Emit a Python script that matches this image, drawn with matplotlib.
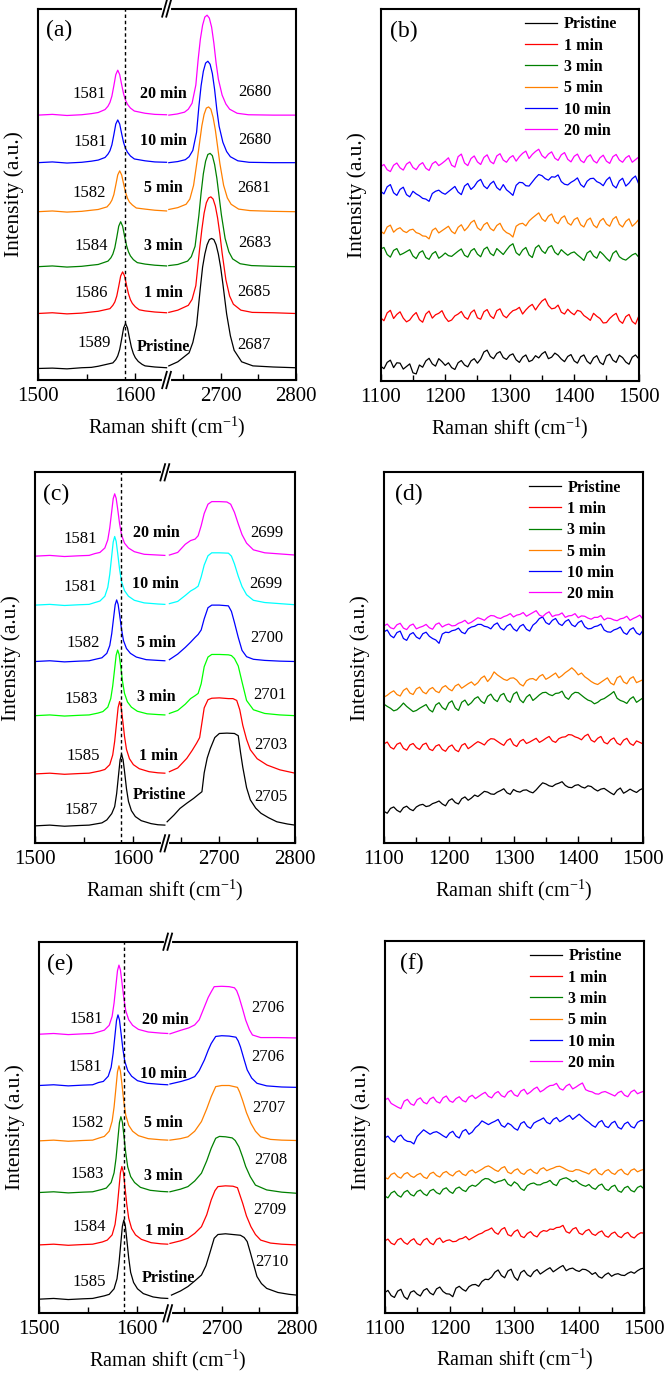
import numpy as np
import matplotlib
matplotlib.use('Agg')
import matplotlib.pyplot as plt
from matplotlib.transforms import blended_transform_factory

plt.rcParams['font.family'] = ['Liberation Serif', 'DejaVu Serif']
plt.rcParams['mathtext.default'] = 'regular'

labels = ['Pristine', '1 min', '3 min', '5 min', '10 min', '20 min']
cols_std = ['black', '#ff0000', '#008000', '#ff8000', '#0000ff', '#ff00ff']
cols_c = ['black', '#ff0000', '#00ff00', '#0000ff', '#00ffff', '#ff00ff']

# peak positions printed in the panels (pristine -> 20 min)
a_g_txt = ['1589', '1586', '1584', '1582', '1581', '1581']
a_d_txt = ['2687', '2685', '2683', '2681', '2680', '2680']
c_g_txt = ['1587', '1585', '1583', '1582', '1581', '1581']
c_d_txt = ['2705', '2703', '2701', '2700', '2699', '2699']
e_g_txt = ['1585', '1584', '1583', '1582', '1581', '1581']
e_d_txt = ['2710', '2709', '2708', '2707', '2706', '2706']

# ---- panel (a): G band and 2D band (stacked, arb. units) ----
a_gx = [
    [1500, 1515, 1530, 1545, 1555, 1562, 1577, 1580, 1582, 1584, 1586, 1588, 1590, 1592, 1594, 1596, 1598, 1600, 1603, 1607, 1610, 1620, 1632],
    [1500, 1515, 1530, 1545, 1555, 1562, 1574, 1577, 1579, 1581, 1583, 1585, 1587, 1589, 1591, 1593, 1595, 1597, 1600, 1604, 1610, 1620, 1632],
    [1500, 1515, 1530, 1545, 1555, 1562, 1572, 1575, 1577, 1579, 1581, 1583, 1585, 1587, 1589, 1591, 1593, 1595, 1598, 1602, 1610, 1620, 1632],
    [1500, 1515, 1530, 1545, 1555, 1562, 1571, 1574, 1576, 1578, 1580, 1582, 1584, 1586, 1588, 1590, 1592, 1594, 1597, 1601, 1610, 1620, 1632],
    [1500, 1515, 1530, 1545, 1555, 1562, 1569, 1572, 1574, 1576, 1578, 1580, 1582, 1584, 1586, 1588, 1590, 1592, 1595, 1599, 1610, 1620, 1632],
    [1500, 1515, 1530, 1545, 1555, 1562, 1569, 1572, 1574, 1576, 1578, 1580, 1582, 1584, 1586, 1588, 1590, 1592, 1595, 1599, 1610, 1620, 1632],
]
a_gy = [
    [3.1, 3.2, 3.0, 3.3, 3.4, 3.7, 4.6, 5.5, 6.5, 8.2, 11.0, 14.0, 15.2, 14.0, 11.3, 8.8, 7.1, 6.0, 5.0, 4.2, 3.8, 3.5, 3.3],
    [17.9, 18.1, 17.8, 18.0, 18.3, 18.5, 19.2, 20.1, 21.0, 22.6, 25.2, 28.0, 29.1, 28.0, 25.5, 23.2, 21.6, 20.6, 19.7, 18.9, 18.6, 18.3, 18.1],
    [30.5, 30.7, 30.4, 30.6, 30.9, 31.1, 32.0, 32.9, 33.9, 35.6, 38.4, 41.4, 42.6, 41.4, 38.7, 36.2, 34.5, 33.4, 32.4, 31.6, 31.2, 30.9, 30.7],
    [45.3, 45.5, 45.2, 45.4, 45.7, 45.9, 46.6, 47.5, 48.4, 49.9, 52.5, 55.2, 56.3, 55.2, 52.8, 50.5, 48.9, 47.9, 47.1, 46.3, 46.0, 45.7, 45.5],
    [58.5, 58.7, 58.4, 58.6, 58.9, 59.2, 59.9, 60.8, 61.7, 63.3, 66.0, 68.9, 70.0, 68.9, 66.3, 63.9, 62.3, 61.3, 60.3, 59.5, 59.0, 58.7, 58.6],
    [71.3, 71.5, 71.2, 71.4, 71.7, 72.0, 72.8, 73.7, 74.7, 76.4, 79.2, 82.2, 83.4, 82.2, 79.5, 77.0, 75.3, 74.2, 73.2, 72.4, 71.8, 71.5, 71.4],
]
a_dx = [
    [2631, 2643, 2658, 2663, 2668, 2673, 2676, 2679, 2682, 2685, 2688, 2691, 2694, 2697, 2700, 2703, 2708, 2713, 2718, 2728, 2743, 2770, 2800],
    [2631, 2643, 2657, 2662, 2667, 2672, 2675, 2678, 2681, 2684, 2687, 2690, 2693, 2696, 2699, 2702, 2707, 2712, 2717, 2727, 2742, 2770, 2800],
    [2631, 2643, 2656, 2661, 2666, 2671, 2674, 2677, 2680, 2683, 2686, 2689, 2692, 2695, 2698, 2701, 2706, 2711, 2716, 2726, 2741, 2770, 2800],
    [2631, 2643, 2654, 2659, 2664, 2669, 2672, 2675, 2678, 2681, 2684, 2687, 2690, 2693, 2696, 2699, 2704, 2709, 2714, 2724, 2739, 2770, 2800],
    [2631, 2643, 2653, 2658, 2663, 2668, 2671, 2674, 2677, 2680, 2683, 2686, 2689, 2692, 2695, 2698, 2703, 2708, 2713, 2723, 2738, 2770, 2800],
    [2631, 2642, 2652, 2657, 2662, 2667, 2670, 2673, 2676, 2679, 2682, 2685, 2688, 2691, 2694, 2697, 2702, 2707, 2712, 2722, 2737, 2770, 2800],
]
a_dy = [
    [3.8, 4.9, 7.3, 10.1, 14.7, 24.8, 30.4, 33.9, 36.4, 37.8, 38.1, 37.8, 36.4, 33.9, 30.4, 25.9, 17.8, 11.9, 8.0, 4.9, 3.8, 3.5, 3.3],
    [18.2, 18.8, 20.1, 21.7, 25.4, 35.2, 40.5, 44.9, 47.7, 49.0, 49.3, 48.7, 46.8, 43.6, 39.3, 34.2, 27.0, 22.6, 20.4, 18.8, 18.2, 18.1, 17.9],
    [30.8, 31.1, 32.0, 33.2, 36.0, 44.2, 50.3, 55.5, 58.9, 60.7, 61.0, 60.4, 58.0, 54.3, 49.4, 44.5, 38.1, 34.5, 32.6, 31.3, 30.8, 30.6, 30.5],
    [45.9, 46.4, 47.3, 48.7, 52.4, 59.4, 63.9, 68.4, 71.5, 73.2, 73.5, 72.9, 70.7, 67.3, 62.8, 58.3, 52.4, 49.0, 47.3, 46.0, 45.6, 45.4, 45.3],
    [58.5, 58.8, 59.3, 60.1, 61.8, 66.7, 73.5, 79.2, 83.1, 85.3, 85.8, 85.0, 82.5, 78.2, 72.7, 68.3, 64.0, 61.5, 60.1, 59.0, 58.6, 58.5, 58.5],
    [71.3, 71.6, 72.1, 72.9, 74.5, 79.4, 86.1, 91.7, 95.5, 97.7, 98.2, 97.4, 95.0, 90.7, 85.3, 81.0, 76.7, 74.3, 72.9, 71.8, 71.4, 71.3, 71.3],
]

# ---- panel (c) ----
c_gx = [
    [1500, 1515, 1530, 1545, 1555, 1568, 1573, 1578, 1581, 1583, 1585, 1586.5, 1588, 1589.5, 1591, 1593, 1595, 1598, 1602, 1608, 1618, 1625, 1632],
    [1500, 1515, 1530, 1545, 1555, 1566, 1571, 1576, 1579, 1581, 1583, 1584.5, 1586, 1587.5, 1589, 1591, 1593, 1596, 1600, 1606, 1616, 1625, 1632],
    [1500, 1515, 1530, 1545, 1555, 1564, 1569, 1574, 1577, 1579, 1581, 1582.5, 1584, 1585.5, 1587, 1589, 1591, 1594, 1598, 1604, 1614, 1625, 1632],
    [1500, 1515, 1530, 1545, 1555, 1563, 1568, 1573, 1576, 1578, 1580, 1581.5, 1583, 1584.5, 1586, 1588, 1590, 1593, 1597, 1603, 1613, 1625, 1632],
    [1500, 1515, 1530, 1545, 1555, 1561, 1566, 1571, 1574, 1576, 1578, 1579.5, 1581, 1582.5, 1584, 1586, 1588, 1591, 1595, 1601, 1611, 1625, 1632],
    [1500, 1515, 1530, 1545, 1555, 1561, 1566, 1571, 1574, 1576, 1578, 1579.5, 1581, 1582.5, 1584, 1586, 1588, 1591, 1595, 1601, 1611, 1625, 1632],
]
c_gy = [
    [4.7, 4.9, 4.6, 4.8, 4.9, 5.5, 6.3, 8.0, 9.9, 13.4, 18.6, 22.5, 24.0, 22.6, 19.4, 14.7, 11.3, 8.8, 7.2, 6.1, 5.3, 5.0, 4.9],
    [18.7, 18.9, 18.6, 18.8, 18.9, 19.5, 19.9, 21.2, 23.8, 27.5, 32.7, 36.6, 38.2, 36.8, 33.5, 28.8, 25.3, 22.8, 21.2, 20.1, 19.3, 19.0, 18.9],
    [34.4, 34.6, 34.3, 34.5, 34.6, 35.1, 35.5, 36.7, 39.0, 42.4, 47.1, 50.7, 52.1, 50.9, 47.9, 43.6, 40.4, 38.1, 36.7, 35.6, 34.9, 34.7, 34.6],
    [49.0, 49.2, 48.9, 49.1, 49.2, 49.7, 50.0, 51.2, 53.3, 56.5, 61.0, 64.3, 65.6, 64.4, 61.6, 57.6, 54.6, 52.5, 51.2, 50.2, 49.5, 49.3, 49.2],
    [64.2, 64.4, 64.1, 64.3, 64.4, 64.9, 65.3, 66.6, 69.0, 72.5, 77.5, 81.2, 82.7, 81.4, 78.3, 73.8, 70.5, 68.1, 66.6, 65.5, 64.8, 64.5, 64.4],
    [77.4, 77.6, 77.3, 77.5, 77.6, 78.1, 78.4, 79.6, 81.8, 85.0, 89.5, 92.9, 94.2, 93.0, 90.2, 86.1, 83.1, 80.9, 79.6, 78.6, 77.9, 77.7, 77.6],
]
c_dx = [
    [2631, 2640, 2648, 2657, 2666, 2672, 2677, 2680, 2684, 2688, 2694, 2700, 2710, 2720, 2725, 2728, 2731, 2736, 2741, 2748, 2755, 2765, 2776, 2790, 2800],
    [2634, 2645, 2657, 2664, 2670, 2674, 2677, 2680, 2685, 2690, 2700, 2712, 2718, 2723, 2727, 2731, 2736, 2741, 2750, 2763, 2780, 2800],
    [2634, 2645, 2655, 2662, 2668, 2672, 2676, 2680, 2685, 2690, 2700, 2712, 2716, 2720, 2725, 2730, 2736, 2745, 2760, 2780, 2800],
    [2634, 2645, 2655, 2662, 2668, 2672, 2676, 2680, 2685, 2690, 2700, 2712, 2716, 2720, 2725, 2730, 2736, 2745, 2760, 2780, 2800],
    [2634, 2645, 2655, 2662, 2668, 2672, 2676, 2680, 2685, 2690, 2700, 2712, 2716, 2720, 2725, 2730, 2736, 2745, 2760, 2780, 2800],
    [2634, 2645, 2655, 2662, 2668, 2672, 2676, 2680, 2685, 2690, 2700, 2710, 2715, 2720, 2725, 2730, 2736, 2745, 2760, 2780, 2800],
]
c_dy = [
    [5.8, 7.6, 9.4, 10.8, 12.1, 13.1, 13.9, 19.0, 23.0, 25.5, 28.5, 29.6, 29.7, 29.6, 29.0, 24.5, 20.5, 15.0, 11.7, 9.5, 8.1, 6.9, 5.8, 5.2, 4.9],
    [19.3, 20.3, 22.9, 25.0, 27.0, 28.5, 32.5, 36.5, 38.7, 39.1, 39.2, 39.0, 39.0, 38.5, 36.0, 31.8, 28.0, 25.2, 22.8, 21.1, 19.8, 18.9],
    [35.0, 35.8, 37.5, 39.0, 39.8, 40.4, 43.0, 47.6, 50.2, 50.9, 50.9, 50.8, 50.6, 49.8, 47.8, 43.5, 38.5, 36.0, 35.0, 34.6, 34.4],
    [49.5, 51.0, 52.8, 54.2, 55.5, 56.3, 57.5, 60.5, 63.5, 64.2, 64.2, 64.0, 62.5, 59.5, 55.5, 52.0, 50.3, 49.6, 49.3, 49.1, 49.0],
    [64.6, 65.2, 66.8, 68.0, 68.7, 69.3, 71.8, 75.0, 77.5, 78.3, 78.3, 78.2, 77.4, 75.3, 72.0, 69.2, 67.0, 65.5, 64.9, 64.6, 64.3],
    [77.7, 78.4, 80.6, 81.6, 82.0, 82.9, 85.6, 88.9, 91.4, 92.1, 92.1, 92.0, 91.4, 89.2, 86.1, 83.2, 80.9, 79.1, 78.3, 78.0, 77.7],
]

# ---- panel (e) ----
e_gx = [
    [1500, 1515, 1530, 1545, 1555, 1567, 1572, 1577, 1580, 1582, 1584, 1585.5, 1587, 1588.5, 1590, 1592, 1594, 1597, 1601, 1607, 1617, 1625, 1632],
    [1500, 1515, 1530, 1545, 1555, 1565, 1570, 1575, 1578, 1580, 1582, 1583.5, 1585, 1586.5, 1588, 1590, 1592, 1595, 1599, 1605, 1615, 1625, 1632],
    [1500, 1515, 1530, 1545, 1555, 1564, 1569, 1574, 1577, 1579, 1581, 1582.5, 1584, 1585.5, 1587, 1589, 1591, 1594, 1598, 1604, 1614, 1625, 1632],
    [1500, 1515, 1530, 1545, 1555, 1562, 1567, 1572, 1575, 1577, 1579, 1580.5, 1582, 1583.5, 1585, 1587, 1589, 1592, 1596, 1602, 1612, 1625, 1632],
    [1500, 1515, 1530, 1545, 1555, 1561, 1566, 1571, 1574, 1576, 1578, 1579.5, 1581, 1582.5, 1584, 1586, 1588, 1591, 1595, 1601, 1611, 1625, 1632],
    [1500, 1515, 1530, 1545, 1555, 1562, 1567, 1572, 1575, 1577, 1579, 1580.5, 1582, 1583.5, 1585, 1587, 1589, 1592, 1596, 1602, 1612, 1625, 1632],
]
e_gy = [
    [3.8, 4.0, 3.7, 3.9, 4.0, 4.7, 5.1, 6.6, 9.3, 13.4, 19.1, 23.4, 25.1, 23.6, 20.0, 14.9, 11.0, 8.3, 6.6, 5.3, 4.4, 4.1, 4.0],
    [18.4, 18.6, 18.3, 18.5, 18.6, 19.2, 19.7, 21.1, 23.9, 27.9, 33.6, 37.8, 39.5, 38.0, 34.4, 29.4, 25.6, 22.8, 21.1, 19.9, 19.0, 18.7, 18.6],
    [32.5, 32.7, 32.4, 32.6, 32.7, 33.3, 33.7, 35.2, 37.8, 41.7, 47.2, 51.3, 52.9, 51.5, 48.0, 43.1, 39.4, 36.8, 35.2, 33.9, 33.1, 32.8, 32.7],
    [46.4, 46.6, 46.3, 46.5, 46.6, 47.2, 47.6, 49.0, 51.7, 55.5, 60.9, 65.0, 66.6, 65.2, 61.8, 56.9, 53.3, 50.6, 49.0, 47.8, 47.0, 46.7, 46.6],
    [61.3, 61.5, 61.2, 61.4, 61.5, 62.1, 62.4, 63.8, 66.2, 69.9, 75.0, 78.8, 80.3, 79.0, 75.7, 71.2, 67.8, 65.3, 63.8, 62.6, 61.9, 61.6, 61.5],
    [75.1, 75.3, 75.0, 75.2, 75.3, 75.8, 76.2, 77.5, 79.9, 83.5, 88.5, 92.2, 93.7, 92.4, 89.2, 84.8, 81.4, 79.0, 77.5, 76.4, 75.7, 75.4, 75.3],
]
e_dx = [
    [2633, 2645, 2655, 2664, 2673, 2679, 2684, 2690, 2695, 2705, 2715, 2725, 2730, 2734, 2738, 2741, 2747, 2753, 2760, 2775, 2790, 2800],
    [2631, 2645, 2655, 2664, 2673, 2680, 2686, 2691, 2695, 2705, 2715, 2721, 2724, 2728, 2733, 2739, 2745, 2752, 2765, 2780, 2800],
    [2631, 2645, 2655, 2664, 2673, 2680, 2686, 2692, 2697, 2705, 2714, 2718, 2723, 2728, 2732, 2738, 2745, 2760, 2780, 2800],
    [2631, 2645, 2655, 2664, 2673, 2680, 2686, 2692, 2700, 2710, 2721, 2724, 2728, 2733, 2739, 2745, 2752, 2765, 2780, 2800],
    [2631, 2646, 2656, 2664, 2670, 2677, 2682, 2686, 2692, 2700, 2710, 2719, 2722, 2725, 2730, 2734, 2740, 2747, 2760, 2780, 2800],
    [2631, 2646, 2656, 2664, 2670, 2677, 2682, 2686, 2690, 2700, 2710, 2717, 2720, 2723, 2728, 2732, 2737, 2741, 2752, 2775, 2800],
]
e_dy = [
    [4.9, 6.0, 7.2, 8.7, 10.3, 12.8, 16.1, 20.2, 21.2, 21.4, 21.2, 21.0, 20.4, 19.3, 16.5, 14.3, 9.9, 8.0, 6.7, 5.6, 5.1, 4.9],
    [18.8, 19.5, 20.2, 21.5, 23.3, 26.5, 30.5, 33.0, 34.1, 34.3, 34.2, 33.8, 32.0, 29.6, 26.2, 23.3, 21.2, 19.7, 18.9, 18.6, 18.4],
    [32.7, 33.4, 34.1, 35.6, 37.7, 41.0, 44.4, 47.1, 47.6, 47.5, 47.2, 46.5, 44.8, 42.0, 39.5, 36.8, 34.5, 33.2, 32.6, 32.3],
    [46.6, 47.0, 47.5, 49.0, 51.6, 55.0, 58.3, 61.0, 61.3, 61.3, 60.8, 59.5, 57.2, 54.0, 51.1, 49.0, 47.5, 46.8, 46.6, 46.5],
    [61.7, 62.4, 63.0, 63.7, 65.3, 68.2, 70.8, 72.6, 74.5, 74.7, 74.6, 74.3, 73.3, 71.7, 68.2, 65.5, 63.3, 61.9, 61.2, 60.9, 60.8],
    [75.2, 76.2, 76.8, 77.6, 79.0, 82.5, 85.0, 86.5, 87.9, 88.0, 87.9, 87.6, 86.8, 85.2, 81.8, 78.9, 76.3, 74.9, 74.2, 74.2, 74.1],
]

# ---- D band region, 1100-1500 cm-1, one value every 5 cm-1 ----
d_shift = np.arange(1100, 1501, 5)
b_y = [
    [4.0, 3.3, 5.0, 5.6, 3.6, 4.9, 4.8, 3.2, 3.9, 4.6, 2.2, 1.9, 4.3, 3.7, 5.4, 6.1, 4.6, 4.0, 6.0, 5.2,
     4.2, 4.9, 3.6, 3.1, 4.9, 5.5, 4.3, 3.8, 5.4, 6.0, 4.8, 5.9, 7.8, 8.3, 6.6, 6.0, 7.4, 7.9, 6.3, 5.8,
     6.9, 7.3, 5.7, 5.0, 6.4, 7.0, 5.2, 5.6, 6.8, 6.2, 7.3, 7.9, 6.0, 6.4, 7.5, 6.9, 5.9, 5.2, 6.6, 7.1,
     5.4, 4.8, 6.5, 7.0, 5.3, 4.6, 6.2, 6.8, 5.0, 4.4, 6.7, 7.2, 5.6, 5.0, 6.9, 6.3, 5.1, 4.5, 6.4, 7.0, 6.0],
    [17.0, 16.2, 18.3, 19.0, 16.8, 17.9, 18.6, 16.9, 15.9, 16.4, 17.6, 18.4, 16.5, 15.8, 18.0, 18.8, 16.9, 17.8, 18.2, 18.9,
     17.1, 16.0, 16.4, 17.5, 18.0, 18.7, 17.2, 16.6, 18.4, 19.1, 17.0, 16.6, 18.6, 19.2, 17.5, 16.8, 18.9, 19.4, 17.6, 17.0,
     18.1, 18.9, 19.2, 19.8, 18.0, 19.1, 20.0, 20.6, 19.1, 20.4, 21.5, 22.1, 20.3, 19.4, 19.6, 20.4, 18.5, 18.0, 19.3, 18.4,
     17.8, 19.0, 18.7, 17.6, 17.0, 16.3, 18.2, 17.4, 16.8, 15.6, 15.7, 16.8, 17.6, 18.2, 16.2, 15.5, 17.3, 17.9, 16.0, 15.3, 17.4],
    [35.5, 35.9, 34.0, 33.3, 35.1, 35.6, 33.9, 34.3, 34.8, 35.3, 33.6, 32.9, 34.5, 35.0, 33.2, 32.7, 34.2, 34.8, 33.0, 33.6,
     34.4, 33.7, 33.5, 34.2, 34.9, 35.5, 33.8, 33.3, 35.0, 35.6, 34.1, 33.4, 35.4, 36.0, 34.3, 33.7, 35.6, 34.8, 34.0, 35.2,
     36.3, 36.9, 34.5, 33.8, 35.2, 35.9, 33.9, 33.2, 35.8, 36.5, 35.0, 34.3, 35.9, 36.4, 34.6, 33.9, 35.3, 34.5, 33.8, 34.4,
     34.7, 33.9, 33.2, 32.4, 34.4, 35.0, 33.6, 33.0, 34.8, 34.0, 33.0, 32.2, 34.3, 35.0, 33.4, 32.8, 32.5, 33.2, 33.9, 34.3, 33.3],
    [40.3, 39.6, 41.4, 41.9, 40.0, 40.8, 41.2, 40.3, 39.9, 40.6, 40.8, 39.9, 39.6, 39.0, 38.9, 38.2, 40.5, 41.1, 39.8, 40.4,
     41.0, 41.6, 40.2, 39.6, 41.3, 42.0, 40.4, 41.3, 42.6, 43.2, 41.2, 40.5, 42.0, 42.6, 41.0, 40.4, 41.8, 42.4, 40.7, 39.9,
     39.5, 38.7, 41.6, 42.2, 42.4, 41.7, 43.0, 43.8, 44.5, 45.2, 43.6, 42.9, 44.3, 44.9, 42.9, 42.3, 43.8, 44.4, 42.5, 41.9,
     43.4, 43.9, 42.0, 41.4, 43.2, 43.8, 41.9, 41.2, 43.0, 43.7, 42.2, 41.6, 43.5, 44.2, 42.1, 41.4, 42.9, 43.6, 41.6, 42.4, 43.4],
    [51.0, 50.3, 52.2, 52.8, 50.6, 49.9, 51.5, 52.1, 50.1, 49.5, 51.0, 50.3, 49.8, 49.1, 48.9, 48.3, 50.4, 51.0, 51.3, 50.6,
     50.2, 50.9, 51.6, 52.3, 50.8, 50.1, 52.4, 53.1, 51.5, 52.3, 53.6, 54.2, 52.4, 51.7, 53.0, 53.7, 52.0, 51.3, 52.8, 51.4,
     50.7, 49.9, 52.6, 53.4, 53.3, 52.5, 52.4, 53.5, 54.6, 55.5, 55.2, 54.4, 54.0, 54.9, 54.8, 55.4, 53.6, 52.9, 52.7, 53.4,
     53.9, 54.6, 52.8, 52.1, 53.7, 54.4, 54.5, 53.6, 53.2, 52.5, 54.0, 54.8, 52.6, 51.9, 53.8, 54.5, 52.4, 53.2, 54.4, 55.1, 53.0],
    [57.6, 58.2, 56.8, 56.3, 58.0, 58.6, 57.3, 56.7, 58.3, 58.9, 57.4, 56.8, 58.1, 58.7, 57.2, 56.6, 58.4, 59.0, 57.9, 58.5,
     59.2, 60.0, 58.0, 57.5, 60.3, 61.0, 58.6, 57.9, 59.8, 60.5, 58.9, 58.2, 60.1, 60.8, 59.0, 58.4, 60.5, 61.1, 59.4, 58.8,
     60.0, 60.6, 59.1, 60.3, 61.2, 61.8, 59.8, 60.9, 61.7, 62.3, 60.6, 59.9, 61.0, 61.6, 59.9, 59.3, 60.8, 61.4, 59.6, 58.9,
     60.4, 61.0, 59.3, 58.7, 60.2, 60.8, 59.2, 58.6, 60.0, 60.7, 59.1, 58.5, 60.3, 60.9, 59.4, 58.8, 60.0, 60.6, 58.8, 59.5, 60.2],
]
d_y = [
    [8.6, 8.1, 9.4, 9.8, 8.9, 8.4, 9.6, 10.0, 9.2, 8.8, 9.8, 10.3, 10.5, 9.9, 10.1, 10.7, 11.0, 11.4, 10.6, 10.1,
     11.5, 12.0, 11.0, 10.6, 12.0, 12.5, 11.6, 12.2, 13.0, 12.6, 13.3, 14.0, 13.8, 13.3, 13.2, 13.8, 14.2, 14.7, 13.6, 13.2,
     14.5, 14.0, 13.8, 14.3, 14.4, 13.9, 13.6, 14.4, 15.4, 16.3, 16.0, 15.5, 15.3, 15.9, 16.2, 16.6, 15.6, 15.1, 15.0, 15.6,
     15.8, 15.2, 14.9, 15.5, 15.3, 14.6, 14.1, 14.6, 14.8, 14.2, 13.6, 13.1, 14.3, 14.9, 13.5, 14.0, 14.6, 14.1, 13.7, 14.4, 14.8],
    [26.8, 27.3, 25.9, 25.4, 26.7, 27.1, 25.6, 25.1, 26.5, 26.9, 25.8, 25.3, 26.6, 27.0, 25.4, 25.0, 26.2, 26.6, 25.3, 24.8,
     26.0, 26.5, 25.2, 24.7, 26.4, 26.9, 25.5, 26.1, 26.8, 27.4, 27.0, 26.5, 27.6, 28.2, 28.1, 27.5, 26.9, 26.4, 27.7, 28.2,
     26.6, 26.1, 27.5, 28.0, 26.9, 27.3, 27.8, 28.3, 27.2, 27.7, 28.3, 28.8, 27.6, 27.2, 28.2, 28.6, 28.7, 29.3, 29.2, 28.7,
     28.4, 27.9, 28.9, 29.4, 27.8, 27.3, 28.3, 28.8, 27.2, 26.8, 27.9, 28.4, 27.0, 26.5, 27.8, 28.3, 26.9, 26.4, 27.6, 27.2, 26.8],
    [37.5, 36.9, 36.4, 35.7, 36.0, 36.8, 37.8, 36.9, 36.2, 35.5, 35.8, 36.4, 36.9, 37.4, 36.0, 35.4, 37.3, 37.9, 36.6, 36.0,
     37.8, 38.4, 36.5, 35.8, 38.0, 38.6, 37.2, 37.9, 39.0, 39.5, 38.3, 37.7, 39.6, 40.2, 38.8, 38.2, 39.9, 40.4, 38.6, 38.0,
     40.2, 40.8, 38.7, 37.9, 39.4, 40.1, 38.5, 39.2, 40.0, 40.6, 40.7, 40.1, 39.8, 40.4, 40.5, 41.0, 39.4, 38.8, 40.1, 40.7,
     40.6, 39.9, 39.2, 38.6, 38.3, 37.6, 38.0, 38.7, 39.0, 39.6, 40.2, 40.9, 39.1, 38.5, 38.2, 37.7, 38.9, 39.5, 38.0, 38.6, 39.2],
    [39.4, 39.9, 40.6, 41.1, 40.1, 39.7, 41.2, 41.8, 40.5, 40.1, 41.6, 42.1, 40.8, 40.3, 41.5, 42.0, 41.0, 40.6, 42.0, 42.5,
     41.6, 41.1, 42.4, 42.9, 41.8, 42.4, 43.0, 43.5, 42.6, 43.3, 44.5, 45.1, 43.6, 44.6, 46.2, 45.4, 44.8, 44.2, 43.9, 44.5,
     44.6, 44.0, 42.9, 42.4, 43.8, 44.3, 44.4, 43.9, 45.0, 45.5, 44.2, 44.7, 45.3, 45.9, 44.6, 45.2, 46.0, 46.6, 47.3, 46.5,
     45.4, 45.9, 44.9, 44.3, 43.6, 43.1, 42.8, 43.4, 44.0, 44.6, 43.2, 42.7, 44.6, 45.1, 43.5, 43.0, 44.4, 44.9, 43.3, 43.7, 44.1],
    [57.0, 57.5, 56.0, 55.4, 56.8, 57.2, 55.2, 54.7, 56.3, 56.8, 55.6, 55.1, 56.5, 56.9, 55.8, 55.2, 54.8, 53.9, 56.4, 56.9,
     56.8, 57.3, 57.5, 58.0, 56.9, 56.5, 57.8, 58.3, 58.5, 59.0, 59.0, 58.5, 58.3, 57.8, 58.9, 59.4, 58.0, 57.5, 58.6, 59.1,
     57.8, 57.2, 58.5, 59.0, 57.7, 57.2, 58.8, 59.5, 60.6, 61.0, 59.5, 59.0, 60.1, 60.6, 59.2, 58.7, 59.8, 60.3, 58.9, 58.4,
     59.5, 60.0, 58.4, 57.8, 57.9, 58.4, 58.6, 59.1, 57.5, 57.0, 56.9, 57.5, 57.8, 58.3, 56.8, 56.3, 57.6, 58.1, 56.7, 56.2, 57.4],
    [58.6, 59.1, 58.1, 57.8, 58.9, 59.3, 58.0, 57.6, 58.7, 59.1, 57.8, 58.2, 58.5, 59.0, 58.1, 57.7, 59.0, 59.4, 58.3, 58.8,
     59.1, 58.6, 58.7, 59.3, 59.6, 60.1, 59.2, 59.6, 60.2, 60.8, 60.5, 60.1, 60.9, 61.4, 61.3, 60.8, 60.6, 61.1, 61.4, 61.9,
     61.0, 61.5, 61.7, 62.2, 61.2, 61.7, 62.2, 62.7, 61.5, 61.1, 61.9, 62.4, 61.1, 61.5, 61.6, 62.1, 60.9, 61.3, 61.4, 61.9,
     60.8, 61.3, 61.2, 60.7, 60.4, 60.9, 60.9, 61.4, 60.2, 60.7, 60.6, 60.2, 60.0, 60.5, 60.7, 61.2, 60.1, 60.6, 61.0, 61.5, 60.4],
]
f_y = [
    [5.4, 6.0, 4.6, 4.1, 5.8, 6.3, 4.3, 3.6, 5.5, 5.9, 5.0, 4.5, 6.0, 6.5, 5.3, 4.8, 6.4, 6.9, 5.7, 5.1,
     5.0, 4.3, 6.6, 7.1, 6.3, 5.8, 7.0, 7.5, 7.6, 7.1, 8.4, 9.0, 8.9, 9.6, 10.9, 11.5, 10.0, 9.4, 11.2, 11.7,
     9.6, 8.7, 10.8, 11.4, 10.2, 9.7, 11.0, 11.6, 10.4, 11.0, 11.6, 12.1, 11.0, 11.6, 12.2, 12.7, 11.3, 11.8, 12.0, 11.4,
     11.1, 11.7, 11.6, 11.1, 10.3, 10.8, 9.7, 9.3, 10.2, 10.7, 9.8, 10.3, 10.5, 10.1, 10.0, 10.6, 11.0, 10.6, 11.3, 11.8, 12.0],
    [19.3, 19.8, 18.7, 18.3, 19.6, 20.0, 18.9, 18.4, 19.4, 19.9, 18.6, 18.2, 19.5, 20.0, 18.8, 18.3, 19.7, 20.1, 18.9, 19.4,
     19.6, 19.1, 19.2, 19.8, 20.0, 20.5, 19.6, 20.1, 20.6, 21.1, 21.4, 22.0, 22.3, 22.8, 21.6, 21.1, 22.4, 22.9, 21.0, 20.6,
     21.8, 22.3, 20.6, 20.2, 21.3, 21.8, 20.8, 20.4, 21.6, 22.1, 21.9, 22.5, 22.4, 22.9, 23.0, 23.5, 21.8, 21.4, 22.5, 22.9,
     21.4, 21.0, 22.0, 22.4, 21.2, 20.8, 21.6, 22.0, 20.7, 20.3, 21.3, 21.7, 20.6, 20.2, 21.2, 21.6, 20.5, 20.1, 21.0, 21.5, 21.4],
    [31.4, 30.9, 32.2, 32.7, 31.6, 31.1, 32.4, 32.9, 31.8, 31.4, 32.6, 33.0, 32.0, 31.5, 32.8, 33.2, 32.3, 31.9, 33.2, 33.6,
     32.6, 32.1, 33.4, 33.8, 33.0, 32.6, 33.8, 34.3, 34.0, 34.7, 35.6, 36.1, 36.0, 35.4, 34.9, 35.3, 35.5, 35.9, 34.6, 34.1,
     35.2, 34.6, 33.4, 32.9, 34.2, 34.7, 34.9, 34.4, 34.4, 34.9, 35.1, 35.6, 34.6, 34.2, 35.7, 36.1, 36.3, 35.8, 35.2, 35.6,
     34.8, 34.3, 34.0, 34.5, 33.6, 33.2, 34.2, 34.6, 33.3, 32.9, 33.9, 34.3, 32.8, 32.4, 33.6, 34.0, 32.9, 32.5, 33.7, 34.1, 33.3],
    [36.4, 36.0, 37.2, 37.6, 36.6, 36.2, 37.3, 37.7, 36.8, 36.4, 37.1, 37.5, 36.5, 36.1, 37.4, 37.8, 36.9, 36.5, 37.6, 38.0,
     37.2, 36.8, 37.8, 38.2, 37.3, 36.9, 38.0, 38.4, 37.6, 38.1, 38.6, 39.2, 39.5, 39.0, 38.4, 38.0, 38.9, 39.3, 37.8, 37.4,
     38.3, 38.7, 37.6, 37.2, 38.2, 38.6, 37.8, 37.4, 38.6, 39.0, 38.2, 38.6, 38.9, 39.3, 39.4, 39.0, 38.5, 38.1, 38.0, 38.5,
     38.4, 38.0, 37.7, 37.3, 38.3, 38.7, 37.5, 37.1, 38.1, 38.5, 37.6, 37.2, 38.2, 38.6, 37.5, 37.1, 38.3, 38.7, 37.9, 38.3, 38.6],
    [47.0, 47.5, 46.4, 45.9, 47.3, 47.8, 46.6, 46.1, 46.0, 45.4, 47.4, 48.3, 49.2, 48.6, 48.0, 48.5, 48.7, 48.2, 47.6, 47.1,
     48.3, 48.8, 47.5, 47.0, 48.8, 49.3, 48.0, 48.6, 49.8, 50.5, 51.6, 51.1, 50.6, 51.1, 51.5, 52.0, 50.4, 49.9, 51.0, 50.5,
     49.6, 49.1, 50.9, 51.4, 50.1, 49.6, 51.0, 51.5, 51.9, 52.4, 51.2, 50.8, 52.0, 52.5, 51.4, 51.9, 52.6, 53.1, 52.0, 52.7,
     53.4, 52.6, 51.8, 51.2, 50.4, 49.9, 51.2, 51.7, 50.2, 49.8, 51.0, 51.5, 49.9, 49.4, 50.8, 51.3, 50.1, 49.7, 51.2, 51.7, 51.6],
    [57.2, 57.7, 56.3, 55.8, 55.3, 54.9, 56.9, 57.4, 56.2, 55.8, 57.3, 57.8, 56.6, 56.2, 57.5, 58.0, 56.8, 56.4, 57.8, 58.3,
     57.0, 56.6, 57.6, 58.1, 57.1, 56.7, 58.0, 58.5, 57.6, 58.2, 58.8, 59.3, 58.2, 57.8, 59.0, 59.5, 58.4, 58.0, 59.3, 59.8,
     58.6, 58.2, 59.6, 60.1, 58.8, 59.4, 60.2, 60.7, 59.4, 59.9, 60.6, 61.1, 61.2, 61.7, 60.3, 59.9, 61.0, 61.5, 60.2, 60.7,
     61.3, 61.8, 60.0, 59.6, 59.4, 58.9, 58.8, 59.3, 59.5, 59.1, 58.7, 58.3, 59.2, 59.6, 58.5, 58.1, 59.4, 59.9, 58.9, 59.3, 59.6],
]

# text layout for the broken panels: (G number, time, 2D number)
a_lab_x = ([0.217, 0.209, 0.206, 0.199, 0.202, 0.199], [0.487] * 6, [0.84] * 6)
a_lab_y = ([9.9, 23.3, 36.1, 50.4, 64.1, 77.1], [9.0, 23.3, 36.1, 51.6, 64.3, 77.1], [9.4, 23.6, 37.0, 51.7, 64.6, 77.6])
c_lab_x = ([0.178, 0.184, 0.179, 0.184, 0.174, 0.174], [0.48, 0.476, 0.468, 0.468, 0.464, 0.468],
           [0.907, 0.907, 0.904, 0.892, 0.888, 0.892])
c_lab_y = ([9.0, 23.4, 38.8, 53.9, 69.2, 82.0], [13.0, 23.4, 39.5, 53.9, 69.9, 83.7], [12.6, 26.5, 40.0, 55.4, 69.9, 83.7])
e_lab_x = ([0.194, 0.194, 0.188, 0.185, 0.18, 0.184], [0.503, 0.488, 0.484, 0.484, 0.484, 0.489],
           [0.904, 0.895, 0.898, 0.893, 0.89, 0.89])
e_lab_y = ([8.5, 23.1, 37.4, 51.1, 66.2, 79.2], [9.4, 22.2, 37.0, 51.1, 64.4, 78.9], [13.9, 27.8, 41.3, 55.2, 68.9, 82.1])

# broken x axis 1500-1632 | 2628-2800
B1, B2, K = 1632, 2628, 1.3
CUT = (B1 - 1500) * K


def fwd(x):
    x = np.asarray(x, dtype=float)
    return np.where(x <= B1, (x - 1500) * K, CUT + np.clip(x - B2, 0, None))


def inv(u):
    u = np.asarray(u, dtype=float)
    return np.where(u <= CUT, 1500 + u / K, B2 + (u - CUT))


fig = plt.figure(figsize=(6.66, 13.82), dpi=100)


def add_ax(l, t, r, b):
    return fig.add_axes([l / 666, 1 - b / 1382, (r - l) / 666, (b - t) / 1382])


def common(ax):
    ax.set_ylim(0, 100)
    ax.set_yticks([])
    for s in ax.spines.values():
        s.set_linewidth(1.5)
    ax.tick_params(axis='x', which='both', direction='in', top=False, width=1, labelsize=15, pad=5)
    ax.tick_params(axis='x', which='major', length=5)
    ax.tick_params(axis='x', which='minor', length=4)
    ax.set_xlabel(r'Raman shift (cm$^{-1}$)', fontsize=14.5, labelpad=6)
    ax.set_ylabel('Intensity (a.u.)', fontsize=15.5, labelpad=10)


def broken_panel(ax, gx, gy, dx, dy, cols, vline, tag, g_txt, d_txt, lab_x, lab_y):
    ax.set_xscale('function', functions=(fwd, inv))
    for i in range(6):
        ax.plot(gx[i], gy[i], color=cols[i], lw=0.9)
        ax.plot(dx[i], dy[i], color=cols[i], lw=0.9)
    ax.axvline(vline, color='k', lw=1, ls=(0, (2.5, 2)))
    ax.set_xlim(1500, 2800)
    ax.set_xticks([1500, 1600, 2700, 2800])
    ax.set_xticks([1550, 2650, 2750], minor=True)
    common(ax)
    tr = blended_transform_factory(ax.transAxes, ax.transData)
    for i in range(6):
        ax.text(lab_x[0][i], lab_y[0][i], g_txt[i], transform=tr, ha='center', va='center', fontsize=12)
        ax.text(lab_x[1][i], lab_y[1][i], labels[i], transform=tr, ha='center', va='center',
                fontsize=11.5, fontweight='bold')
        ax.text(lab_x[2][i], lab_y[2][i], d_txt[i], transform=tr, ha='center', va='center', fontsize=12)
    ax.text(0.032, 0.94, tag, transform=ax.transAxes, ha='left', va='center', fontsize=17)
    # axis break marks
    bx = CUT / float(fwd(2800))
    for yy in (0, 1):
        ax.plot([bx - 0.008, bx + 0.008], [yy, yy], transform=ax.transAxes, color='white', lw=3,
                clip_on=False, zorder=5)
        for off in (-0.008, 0.008):
            ax.plot([bx + off - 0.009, bx + off + 0.009], [yy - 0.022, yy + 0.022], transform=ax.transAxes,
                    color='k', lw=1.3, clip_on=False, zorder=6)


def noise_panel(ax, ys, tag, tag_x):
    lines = []
    for i in range(6):
        ln, = ax.plot(d_shift, ys[i], color=cols_std[i], lw=0.9)
        lines.append(ln)
    ax.set_xlim(1100, 1500)
    ax.set_xticks([1100, 1200, 1300, 1400, 1500])
    ax.set_xticks([1150, 1250, 1350, 1450], minor=True)
    common(ax)
    ax.legend(lines, labels, frameon=False, loc='upper left', bbox_to_anchor=(0.56, 0.98),
              prop={'weight': 'bold', 'size': 11.5}, handlelength=2.0, handletextpad=0.4,
              labelspacing=0.33, borderaxespad=0, borderpad=0)
    ax.text(tag_x, 0.94, tag, transform=ax.transAxes, ha='left', va='center', fontsize=17)


ax_a = add_ax(37.7, 8.5, 295.7, 380)
broken_panel(ax_a, a_gx, a_gy, a_dx, a_dy, cols_std, 1589.7, '(a)', a_g_txt, a_d_txt, a_lab_x, a_lab_y)
ax_b = add_ax(380.7, 9, 638.7, 381)
noise_panel(ax_b, b_y, '(b)', 0.037)

ax_c = add_ax(35, 472.3, 295, 843.3)
broken_panel(ax_c, c_gx, c_gy, c_dx, c_dy, cols_c, 1587.8, '(c)', c_g_txt, c_d_txt, c_lab_x, c_lab_y)
ax_d = add_ax(384, 472.3, 643, 843.3)
noise_panel(ax_d, d_y, '(d)', 0.041)

ax_e = add_ax(39, 941.7, 296.7, 1313.3)
broken_panel(ax_e, e_gx, e_gy, e_dx, e_dy, cols_std, 1586.7, '(e)', e_g_txt, e_d_txt, e_lab_x, e_lab_y)
ax_f = add_ax(384.7, 941, 644, 1312.7)
noise_panel(ax_f, f_y, '(f)', 0.058)

fig.savefig('out.png', dpi=100)
